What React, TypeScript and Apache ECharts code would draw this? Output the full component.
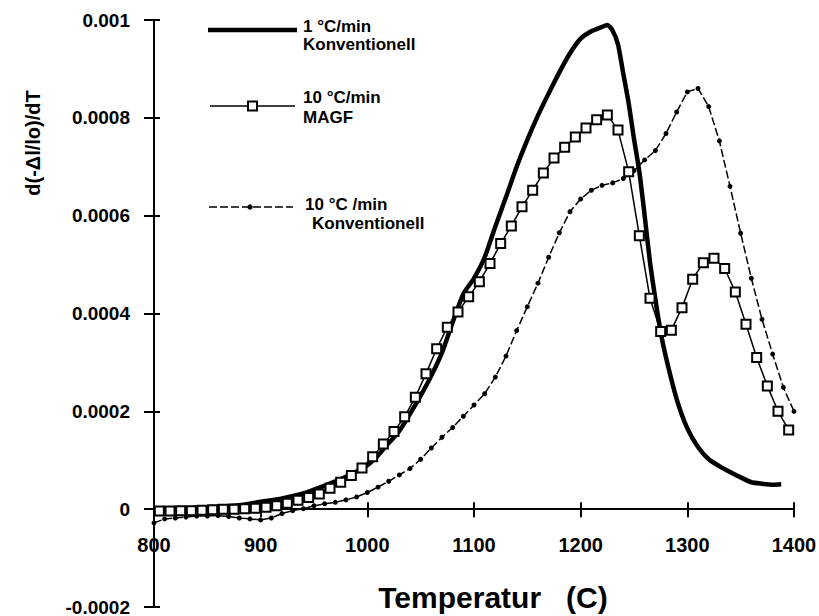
import React, { useEffect, useRef } from "react";
import * as echarts from "echarts";

// ---- Data ----
// 1 °C/min Konventionell (thick solid line)
const slowTemps = [
  800, 820, 840, 860, 880, 900, 920, 940, 960, 980, 1000, 1010, 1020, 1030, 1040,
  1050, 1060, 1070, 1080, 1090, 1100, 1110, 1120, 1130, 1140, 1150, 1160, 1170,
  1180, 1190, 1200, 1210, 1220, 1225, 1230, 1235, 1240, 1245, 1250, 1255, 1260,
  1265, 1270, 1275, 1280, 1290, 1300, 1310, 1320, 1330, 1340, 1350, 1360, 1370,
  1380, 1388,
];
const slowValues = [
  0.0, 0.000001, 0.000003, 0.000005, 0.000008, 0.000015, 0.000022, 0.000032,
  0.000048, 0.000066, 0.00009, 0.00011, 0.000135, 0.00016, 0.000195, 0.000232,
  0.000273, 0.00032, 0.000382, 0.00044, 0.000472, 0.000515, 0.000578, 0.000638,
  0.0007, 0.000755, 0.000805, 0.00085, 0.000893, 0.000932, 0.000962, 0.000977,
  0.000986, 0.00099, 0.000978, 0.00095, 0.00089, 0.00083, 0.000757, 0.00069,
  0.0006, 0.000505, 0.00043, 0.000362, 0.00031, 0.000225, 0.000165, 0.000127,
  0.000102, 0.000088, 0.000076, 0.000065, 0.000055, 0.000052, 0.00005, 0.000051,
];

// 10 °C/min MAGF (open squares)
const magfTemps = [
  805, 815, 825, 835, 845, 855, 865, 875, 885, 895, 905, 915, 925, 935, 945, 955,
  965, 975, 985, 995, 1005, 1015, 1025, 1035, 1045, 1055, 1065, 1075, 1085, 1095,
  1105, 1115, 1125, 1135, 1145, 1155, 1165, 1175, 1185, 1195, 1205, 1215, 1225,
  1235, 1245, 1255, 1265, 1275, 1285, 1295, 1305, 1315, 1325, 1335, 1345, 1355,
  1365, 1375, 1385, 1395,
];
const magfValues = [
  -0.000004, -0.000004, -0.000003, -0.000003, -0.000002, -0.000001, 0.0, 0.0,
  0.000001, 0.000002, 0.000004, 0.000007, 0.000012, 0.000018, 0.000024, 0.000031,
  0.000043, 0.000055, 0.000069, 0.000084, 0.000107, 0.000133, 0.000159, 0.000189,
  0.000229, 0.000277, 0.000328, 0.000372, 0.000403, 0.000434, 0.000465, 0.000502,
  0.000543, 0.000579, 0.000618, 0.000652, 0.000687, 0.000718, 0.00074, 0.000761,
  0.000779, 0.000796, 0.000806, 0.000775, 0.00069, 0.000559, 0.000431, 0.000363,
  0.000366, 0.000412, 0.00047, 0.000504, 0.000513, 0.000492, 0.000444, 0.000378,
  0.00031, 0.000252, 0.0002, 0.000162,
];

// 10 °C/min Konventionell (dash-dot line with dots)
const fastTemps = [
  800, 810, 820, 830, 840, 850, 860, 870, 880, 890, 900, 910, 920, 930, 940, 950,
  960, 970, 980, 990, 1000, 1010, 1020, 1030, 1040, 1050, 1060, 1070, 1080, 1090,
  1100, 1110, 1120, 1130, 1140, 1150, 1160, 1170, 1180, 1190, 1200, 1210, 1220,
  1230, 1240, 1250, 1260, 1270, 1280, 1290, 1300, 1310, 1320, 1330, 1340, 1350,
  1360, 1370, 1380, 1390, 1400,
];
const fastValues = [
  -0.000028, -0.00002, -0.000018, -0.000016, -0.000014, -0.000014, -0.000013,
  -0.000015, -0.000018, -0.00002, -0.000022, -0.000018, -0.000009, -0.000003,
  0.000001, 0.000007, 0.000011, 0.000014, 0.000019, 0.000025, 0.000034, 0.000045,
  0.000057, 0.00007, 0.000083, 0.000102, 0.000125, 0.000147, 0.000167, 0.00019,
  0.000213, 0.000236, 0.00027, 0.000313, 0.000365, 0.000414, 0.000462, 0.000515,
  0.000565, 0.000608, 0.000634, 0.000652, 0.000662, 0.000667, 0.000676, 0.000692,
  0.000714, 0.000733, 0.000768, 0.000812, 0.000853, 0.00086, 0.000823, 0.000753,
  0.00066, 0.000564, 0.000472, 0.000388, 0.000317, 0.000249, 0.0002,
];

// Axes
const xMin = 800;
const xMax = 1400;
const xStep = 100;
const yMin = -0.0002;
const yMax = 0.001;
const yStep = 0.0002;
const xTickLabels = ["800", "900", "1000", "1100", "1200", "1300", "1400"];
const yTickLabels = ["-0.0002", "0", "0.0002", "0.0004", "0.0006", "0.0008", "0.001"];

const seriesNames = ["1 °C/min Konventionell", "10 °C/min MAGF", "10 °C/min Konventionell"];
const legendLines = [
  ["1 °C/min", "Konventionell"],
  ["10 °C/min", "MAGF"],
  ["10 °C /min", "Konventionell"],
];
const xAxisTitle = "Temperatur   (C)";
const yAxisTitle = "d(-Δl/lo)/dT";

const zip = (xs: number[], ys: number[]) => xs.map((x, i) => [x, ys[i]]);

const FONT = '"Liberation Sans", Arial, sans-serif';

// layout
const W = 819;
const H = 616;
const GRID = { left: 154, right: 25, top: 20, bottom: 9 };
const plotH = H - GRID.top - GRID.bottom;
const zeroY = GRID.top + (plotH * (yMax - 0)) / (yMax - yMin);
const plotW = W - GRID.left - GRID.right;

export default function App() {
  const ref = useRef<HTMLDivElement>(null);

  useEffect(() => {
    if (!ref.current) return;
    const chart = echarts.init(ref.current, undefined, { renderer: "svg" });
    const black = "#000";
    const textStyle = (size: number) => ({
      fill: black,
      font: `bold ${size}px ${FONT}`,
      textAlign: "left",
      textVerticalAlign: "middle",
      align: "left",
      verticalAlign: "middle",
    });
    const legendText = (x: number, y: number, t: string) => ({
      type: "text",
      x,
      y,
      style: { ...textStyle(17), text: t, lineHeight: 16 },
      z: 100,
    });
    const tickStyle = { color: black, width: 2 };

    const option: any = {
      animation: false,
      backgroundColor: "#fff",
      grid: { ...GRID, containLabel: false, outerBoundsMode: "none" },
      xAxis: [
        {
          type: "value",
          min: xMin,
          max: xMax,
          interval: xStep,
          position: "bottom",
          offset: -(H - GRID.bottom - zeroY),
          axisLine: { show: true, onZero: false, lineStyle: { color: black, width: 2 } },
          axisTick: { show: true, length: 8, lineStyle: tickStyle },
          axisLabel: {
            margin: 26,
            color: black,
            fontFamily: FONT,
            fontWeight: "bold",
            fontSize: 20,
            formatter: (v: number) => xTickLabels[Math.round((v - xMin) / xStep)] ?? "",
          },
          splitLine: { show: false },
        },
        {
          type: "value",
          min: xMin,
          max: xMax,
          interval: xStep,
          position: "top",
          offset: -(zeroY - GRID.top),
          axisLine: { show: false, onZero: false },
          axisTick: { show: true, length: 7, lineStyle: tickStyle },
          axisLabel: { show: false },
          splitLine: { show: false },
        },
      ],
      yAxis: [
        {
          type: "value",
          min: yMin,
          max: yMax,
          interval: yStep,
          position: "left",
          axisLine: { show: true, onZero: false, lineStyle: { color: black, width: 2 } },
          axisTick: { show: true, length: 10, lineStyle: tickStyle },
          axisLabel: {
            margin: 24,
            color: black,
            fontFamily: FONT,
            fontWeight: "bold",
            fontSize: 19,
            lineHeight: 15,
            formatter: (v: number) => yTickLabels[Math.round((v - yMin) / yStep)] ?? "",
          },
          splitLine: { show: false },
        },
        {
          type: "value",
          min: yMin,
          max: yMax,
          interval: yStep,
          position: "right",
          offset: -plotW,
          axisLine: { show: false, onZero: false },
          axisTick: { show: true, length: 6, lineStyle: tickStyle },
          axisLabel: { show: false },
          splitLine: { show: false },
        },
      ],
      series: [
        {
          type: "line",
          name: seriesNames[2],
          data: zip(fastTemps, fastValues),
          xAxisIndex: 0,
          yAxisIndex: 0,
          symbol: "circle",
          symbolSize: 5,
          showAllSymbol: true,
          itemStyle: { color: black },
          lineStyle: { color: black, width: 1.5, type: [8, 3] },
          z: 2,
        },
        {
          type: "line",
          name: seriesNames[0],
          data: zip(slowTemps, slowValues),
          xAxisIndex: 0,
          yAxisIndex: 0,
          symbol: "none",
          smooth: 0.2,
          lineStyle: { color: black, width: 4.5 },
          z: 3,
        },
        {
          type: "line",
          name: seriesNames[1],
          data: zip(magfTemps, magfValues),
          xAxisIndex: 0,
          yAxisIndex: 0,
          symbol: "rect",
          symbolSize: 9,
          showAllSymbol: true,
          itemStyle: { color: "#fff", borderColor: black, borderWidth: 2 },
          lineStyle: { color: black, width: 1.5 },
          z: 4,
        },
      ],
      graphic: [
        // legend entry 1
        {
          type: "line",
          shape: { x1: 208, y1: 30, x2: 297, y2: 30 },
          style: { stroke: black, lineWidth: 4.5 },
          z: 100,
        },
        legendText(303, 26, legendLines[0][0]),
        legendText(303, 44, legendLines[0][1]),
        // legend entry 2
        {
          type: "line",
          shape: { x1: 210, y1: 106, x2: 295, y2: 106 },
          style: { stroke: black, lineWidth: 1.5 },
          z: 100,
        },
        {
          type: "rect",
          shape: { x: 248, y: 101.5, width: 9, height: 9 },
          style: { fill: "#fff", stroke: black, lineWidth: 2 },
          z: 101,
        },
        legendText(303, 97, legendLines[1][0]),
        legendText(303, 117, legendLines[1][1]),
        // legend entry 3
        {
          type: "line",
          shape: { x1: 209, y1: 207, x2: 293, y2: 207 },
          style: { stroke: black, lineWidth: 1.5, lineDash: [8, 3] },
          z: 100,
        },
        {
          type: "circle",
          shape: { cx: 250, cy: 207, r: 2.7 },
          style: { fill: black },
          z: 101,
        },
        legendText(305, 204, legendLines[2][0]),
        legendText(312, 223, legendLines[2][1]),
        // axis titles
        {
          type: "text",
          x: 33,
          y: 143,
          rotation: Math.PI / 2,
          style: {
            ...textStyle(20),
            text: yAxisTitle,
            textAlign: "center",
            align: "center",
          },
          z: 100,
        },
        {
          type: "text",
          x: 493,
          y: 597,
          style: {
            ...textStyle(30),
            text: xAxisTitle,
            textAlign: "center",
            align: "center",
          },
          z: 100,
        },
      ],
    };

    chart.setOption(option);
    return () => chart.dispose();
  }, []);

  return (
    <div
      ref={ref}
      style={{ position: "fixed", left: 0, top: 0, width: W, height: H, background: "#fff" }}
    />
  );
}
